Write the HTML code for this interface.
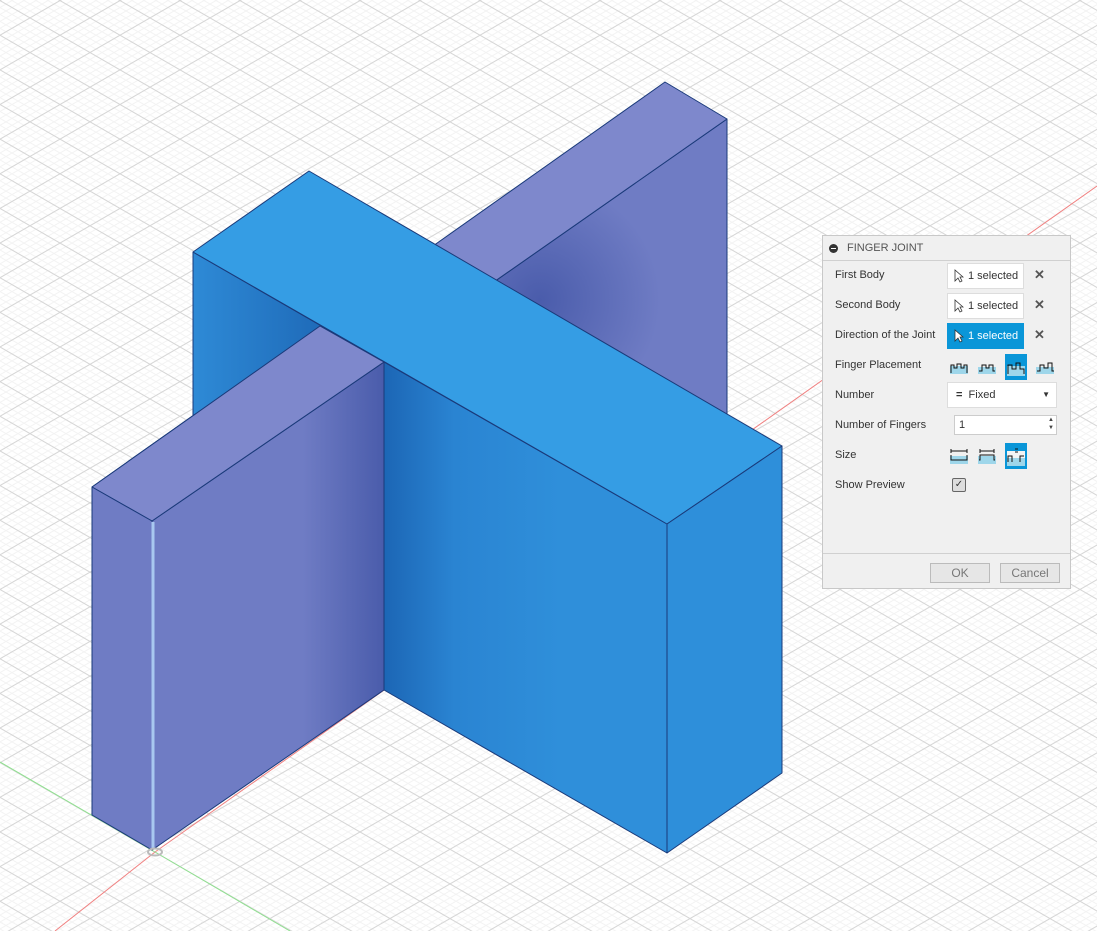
<!DOCTYPE html>
<html><head><meta charset="utf-8"><style>
html,body{margin:0;padding:0;width:1097px;height:931px;overflow:hidden;background:#fff;font-family:"Liberation Sans",sans-serif;}
#dlg{position:absolute;left:822px;top:235px;width:249px;height:354px;background:#f0f0f0;border:1px solid #c8c8c8;box-sizing:border-box;font-size:11px;color:#333;}
.hd{height:24px;border-bottom:1px solid #d0d0d0;line-height:24px;padding-left:24px;color:#555;position:relative;}
.hd:before{content:"";position:absolute;left:6px;top:8px;width:9px;height:9px;border-radius:50%;background:#333;}
.hd:after{content:"";position:absolute;left:8px;top:12px;width:5px;height:1px;background:#fff;}
.row{position:absolute;left:12px;}
.sel{position:absolute;left:124px;width:77px;height:26px;background:#fff;border:1px solid #ddd;box-sizing:border-box;line-height:24px;padding-left:20px;}
.sel:before{content:"";position:absolute;left:7px;top:5px;width:0;height:0;border-left:1px solid #555;}
.sel svg{position:absolute;left:6px;top:5px}
.sel.on{background:#0a96d8;color:#fff;border-color:#0a96d8}
.x{position:absolute;left:211px;font-size:13px;color:#555;font-weight:bold}
.btn{position:absolute;top:327px;height:18px;border:1px solid #bbb;background:#e6e6e6;text-align:center;line-height:18px;color:#777;font-size:12px}
.ic{position:absolute}
</style></head><body>
<svg width="1097" height="931" style="position:absolute;left:0;top:0">
<defs>
<pattern id="g1" width="6" height="6" patternUnits="userSpaceOnUse" patternTransform="rotate(30)"><line x1="0" y1="0.5" x2="6" y2="0.5" stroke="#f3f3f3" stroke-width="1"/></pattern>
<pattern id="g2" width="6" height="6" patternUnits="userSpaceOnUse" patternTransform="rotate(-30)"><line x1="0" y1="0.5" x2="6" y2="0.5" stroke="#f3f3f3" stroke-width="1"/></pattern>
<pattern id="G1" width="30" height="30" patternUnits="userSpaceOnUse" patternTransform="rotate(30)"><line x1="0" y1="0.5" x2="30" y2="0.5" stroke="#d6d6d6" stroke-width="1"/></pattern>
<pattern id="G2" width="30" height="30" patternUnits="userSpaceOnUse" patternTransform="rotate(-30)"><line x1="0" y1="0.5" x2="30" y2="0.5" stroke="#d6d6d6" stroke-width="1"/></pattern>
<linearGradient id="ps" gradientUnits="userSpaceOnUse" x1="152" y1="0" x2="384" y2="0"><stop offset="0" stop-color="#6f7cc4"/><stop offset="0.65" stop-color="#6f7cc4"/><stop offset="1" stop-color="#4a5cab"/></linearGradient>
<linearGradient id="bl" gradientUnits="userSpaceOnUse" x1="384" y1="0" x2="560" y2="0"><stop offset="0" stop-color="#1c66b5"/><stop offset="0.4" stop-color="#2a84d2"/><stop offset="1" stop-color="#2f8fda"/></linearGradient>
<linearGradient id="bl2" gradientUnits="userSpaceOnUse" x1="193" y1="0" x2="320" y2="0"><stop offset="0" stop-color="#2e8ad6"/><stop offset="1" stop-color="#1f6bb9"/></linearGradient>
<radialGradient id="sh" gradientUnits="userSpaceOnUse" cx="540" cy="300" r="120"><stop offset="0" stop-color="#4a5cab"/><stop offset="1" stop-color="#6f7cc4"/></radialGradient>
</defs>
<rect width="1097" height="931" fill="url(#g1)"/>
<rect width="1097" height="931" fill="url(#g2)"/>
<rect width="1097" height="931" fill="url(#G1)"/>
<rect width="1097" height="931" fill="url(#G2)"/>
<line x1="155" y1="852" x2="1097" y2="186" stroke="#f08080" stroke-width="1"/>
<line x1="155" y1="852" x2="55" y2="931" stroke="#f08080" stroke-width="1"/>
<line x1="0" y1="762" x2="155" y2="852" stroke="#8fe08f" stroke-width="1"/>
<line x1="155" y1="852" x2="290" y2="931" stroke="#8fe08f" stroke-width="1"/>
<g stroke="#1a3a7a" stroke-width="1" stroke-linejoin="round">
<polygon points="152,521 727,119 727,445 152,850" fill="url(#sh)"/>
<polygon points="92,487 665,82 727,119 152,521" fill="#7e88cc"/>
<polygon points="193,252 384,362 384,690 193,580" fill="url(#bl2)"/>
<polygon points="384,362 667,524 667,853 384,690" fill="url(#bl)"/>
<polygon points="193,252 309,171 782,446 667,524" fill="#359de4"/>
<polygon points="667,524 782,446 782,773 667,853" fill="#2e8fda"/>
<polygon points="152,521 384,362 384,690 152,850" fill="url(#ps)"/>
<polygon points="92,487 320,326 384,362 152,521" fill="#7e88cc"/>
<polygon points="92,487 152,521 152,850 92,815" fill="#6f7cc4"/>
</g>
<line x1="153" y1="522" x2="153" y2="849" stroke="#a8c8f0" stroke-width="3"/>
<ellipse cx="155" cy="852" rx="7" ry="3.5" fill="none" stroke="#bbb" stroke-width="2"/>
</svg>
<div id="dlg">
<div class="hd">FINGER JOINT</div>
<div class="row" style="top:33px">First Body</div>
<div class="sel" style="top:27px"><svg width="10" height="14"><path d="M1 1 L1 12 L4 9 L6 13 L8 12 L6 8 L9 8 Z" fill="#fff" stroke="#333" stroke-width="0.8"/></svg>1 selected</div><div class="x" style="top:31px">✕</div>
<div class="row" style="top:63px">Second Body</div>
<div class="sel" style="top:57px"><svg width="10" height="14"><path d="M1 1 L1 12 L4 9 L6 13 L8 12 L6 8 L9 8 Z" fill="#fff" stroke="#333" stroke-width="0.8"/></svg>1 selected</div><div class="x" style="top:61px">✕</div>
<div class="row" style="top:93px">Direction of the Joint</div>
<div class="sel on" style="top:87px"><svg width="10" height="14"><path d="M1 1 L1 12 L4 9 L6 13 L8 12 L6 8 L9 8 Z" fill="#fff" stroke="#333" stroke-width="0.8"/></svg>1 selected</div><div class="x" style="top:91px">✕</div>
<div class="row" style="top:123px">Finger Placement</div>
<svg class="ic" style="left:127px;top:124px" width="18" height="14"><rect x="0" y="6" width="18" height="8" fill="#9ed6ea"/><path d="M1 13V5h3v3h3V4h4v4h3V5h3v8" fill="none" stroke="#111"/></svg>
<svg class="ic" style="left:155px;top:124px" width="18" height="14"><rect x="0" y="7" width="18" height="7" fill="#9ed6ea"/><path d="M1 11h3V5h4v3h3V5h4v6h2" fill="none" stroke="#111"/></svg>
<div style="position:absolute;left:182px;top:118px;width:22px;height:26px;background:#0a96d8"></div>
<svg class="ic" style="left:184px;top:124px" width="18" height="16"><rect x="0" y="6" width="18" height="10" fill="#9ed6ea"/><path d="M1 14V5h4v4h4V3h4v6h4v5" fill="none" stroke="#111"/></svg>
<svg class="ic" style="left:213px;top:124px" width="18" height="14"><rect x="0" y="7" width="18" height="7" fill="#9ed6ea"/><path d="M1 11h3V5h4v3h4V3h4v8h2" fill="none" stroke="#111"/></svg>
<div class="row" style="top:153px">Number</div>
<div style="position:absolute;left:124px;top:146px;width:110px;height:26px;background:#fff;border:1px solid #ddd;box-sizing:border-box;line-height:24px;padding-left:8px"><b>=</b>&nbsp;&nbsp;Fixed<span style="position:absolute;right:6px;font-size:8px">▼</span></div>
<div class="row" style="top:183px">Number of Fingers</div>
<div style="position:absolute;left:131px;top:179px;width:103px;height:20px;background:#fff;border:1px solid #ccc;box-sizing:border-box;line-height:18px;padding-left:4px">1<span style="position:absolute;right:2px;top:0;font-size:6px;line-height:8px;color:#444">▲<br>▼</span></div>
<div class="row" style="top:213px">Size</div>
<svg class="ic" style="left:127px;top:210px" width="18" height="18"><rect x="0" y="10" width="18" height="8" fill="#9ed6ea"/><path d="M1 3v4M17 3v4M1 5h16M1 9v5h16V9" fill="none" stroke="#111"/></svg>
<svg class="ic" style="left:155px;top:210px" width="18" height="18"><rect x="0" y="10" width="18" height="8" fill="#9ed6ea"/><path d="M2 3v4M16 3v4M2 5h14M1 14h1V9h14v5h1" fill="none" stroke="#111"/></svg>
<div style="position:absolute;left:182px;top:207px;width:22px;height:26px;background:#0a96d8"></div>
<svg class="ic" style="left:184px;top:210px" width="18" height="20"><rect x="0" y="5" width="18" height="15" fill="#f4f4f4"/><rect x="0" y="12" width="18" height="8" fill="#9ed6ea"/><path d="M8 3h3M8 6h3M1 16v-6h4v6M13 16v-6h4" fill="none" stroke="#111"/></svg>
<div class="row" style="top:243px">Show Preview</div>
<div style="position:absolute;left:129px;top:242px;width:12px;height:12px;border:1px solid #666;border-radius:2px;background:#ddd;font-size:10px;line-height:12px;text-align:center">✓</div>
<div style="position:absolute;left:0;right:0;top:317px;border-top:1px solid #d0d0d0"></div>
<div class="btn" style="left:107px;width:58px">OK</div>
<div class="btn" style="left:177px;width:58px">Cancel</div>
</div>
</body></html>
